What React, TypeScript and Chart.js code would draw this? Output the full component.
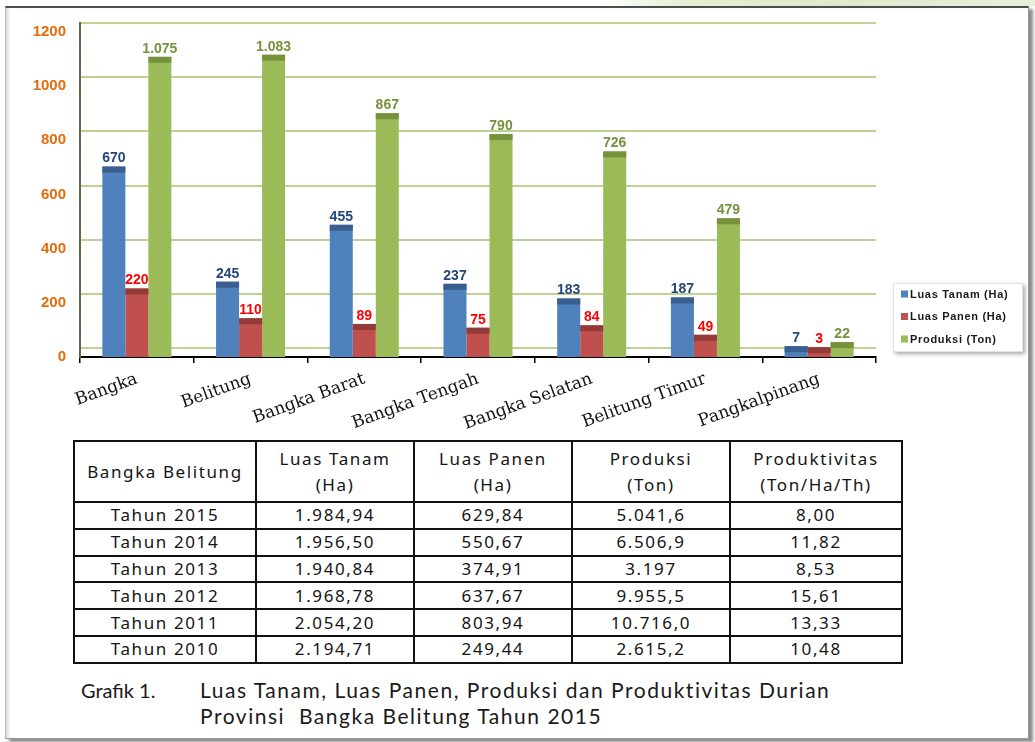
import React, { useEffect, useRef } from "react";
import { Chart, registerables } from "chart.js";

Chart.register(...registerables);

// ---- chart data ----
const categories = [
  "Bangka",
  "Belitung",
  "Bangka Barat",
  "Bangka Tengah",
  "Bangka Selatan",
  "Belitung Timur",
  "Pangkalpinang",
];
const seriesLabels = ["Luas Tanam (Ha)", "Luas Panen (Ha)", "Produksi (Ton)"];
const luasTanam = [670, 245, 455, 237, 183, 187, 7];
const luasPanen = [220, 110, 89, 75, 84, 49, 3];
const produksi = [1075, 1083, 867, 790, 726, 479, 22];
const yTicks = [0, 200, 400, 600, 800, 1000, 1200];

// ---- table data ----
const tableHead = [
  ["Bangka Belitung"],
  ["Luas Tanam", "(Ha)"],
  ["Luas Panen", "(Ha)"],
  ["Produksi", "(Ton)"],
  ["Produktivitas", "(Ton/Ha/Th)"],
];
const tableYears = ["Tahun 2015", "Tahun 2014", "Tahun 2013", "Tahun 2012", "Tahun 2011", "Tahun 2010"];
const tableLuasTanam = ["1.984,94", "1.956,50", "1.940,84", "1.968,78", "2.054,20", "2.194,71"];
const tableLuasPanen = ["629,84", "550,67", "374,91", "637,67", "803,94", "249,44"];
const tableProduksi = ["5.041,6", "6.506,9", "3.197", "9.955,5", "10.716,0", "2.615,2"];
const tableProduktivitas = ["8,00", "11,82", "8,53", "15,61", "13,33", "10,48"];

const captionLabel = "Grafik 1.";
const captionLines = [
  "Luas Tanam, Luas Panen, Produksi dan Produktivitas Durian",
  "Provinsi\u00a0 Bangka Belitung Tahun 2015",
];

// ---- styles ----
const barColors = ["#4F81BD", "#C0504D", "#9BBB59"];
const capColors = ["#3A5F8E", "#943B39", "#76923C"];
const valueColors = ["#23467A", "#FF0000", "#76923C"];
const Y_MIN = -33;

function fmt(v: number): string {
  const s = String(Math.round(v));
  return s.replace(/\B(?=(\d{3})+(?!\d))/g, ".");
}

const capsPlugin = {
  id: "capsAndLabels",
  afterDatasetsDraw(chart: any) {
    const ctx = chart.ctx as CanvasRenderingContext2D;
    chart.data.datasets.forEach((ds: any, di: number) => {
      const meta = chart.getDatasetMeta(di);
      meta.data.forEach((bar: any, i: number) => {
        const p = bar.getProps(["x", "y", "width", "base"], true);
        const left = p.x - p.width / 2;
        const h = Math.min(6, p.base - p.y);
        ctx.save();
        ctx.fillStyle = capColors[di];
        ctx.fillRect(left, p.y, p.width, h);
        ctx.font = "bold 14px 'Liberation Sans', Arial, sans-serif";
        ctx.fillStyle = valueColors[di];
        ctx.textAlign = "center";
        ctx.textBaseline = "bottom";
        ctx.fillText(fmt(ds.data[i]), p.x, p.y - 1);
        ctx.restore();
      });
    });
  },
};

const legendPlugin = {
  id: "boxLegend",
  afterDraw(chart: any) {
    const ctx = chart.ctx as CanvasRenderingContext2D;
    const a = chart.chartArea;
    const x = a.right + 17;
    const w = 130;
    const h = 69;
    const y = a.bottom - 74;
    ctx.save();
    ctx.shadowColor = "rgba(0,0,0,0.35)";
    ctx.shadowBlur = 4;
    ctx.shadowOffsetX = 2;
    ctx.shadowOffsetY = 2;
    ctx.fillStyle = "#fff";
    ctx.fillRect(x, y, w, h);
    ctx.restore();
    ctx.save();
    ctx.strokeStyle = "#e4e4e4";
    ctx.lineWidth = 1;
    ctx.strokeRect(x + 0.5, y + 0.5, w - 1, h - 1);
    ctx.font = "bold 11px 'Liberation Sans', Arial, sans-serif";
    (ctx as any).letterSpacing = "0.7px";
    ctx.textBaseline = "middle";
    ctx.textAlign = "left";
    chart.data.datasets.forEach((ds: any, di: number) => {
      const cy = y + 11 + di * 22.5;
      ctx.fillStyle = barColors[di];
      ctx.fillRect(x + 8, cy - 3.5, 7, 7);
      ctx.fillStyle = "#1a1a1a";
      ctx.fillText(ds.label, x + 17, cy + 0.5);
    });
    ctx.restore();
  },
};

function ChartCanvas() {
  const ref = useRef<HTMLCanvasElement | null>(null);
  useEffect(() => {
    if (!ref.current) return;
    const series = [luasTanam, luasPanen, produksi];
    const chart = new Chart(ref.current, {
      type: "bar",
      data: {
        labels: categories,
        datasets: series.map((d, i) => ({
          label: seriesLabels[i],
          data: d,
          backgroundColor: barColors[i],
          borderWidth: 0,
          base: Y_MIN,
          barPercentage: 1,
          categoryPercentage: 0.607,
        })),
      },
      options: {
        animation: false,
        responsive: false,
        maintainAspectRatio: false,
        layout: { padding: { top: 20, right: 159, left: 0, bottom: 0 } },
        plugins: { legend: { display: false }, tooltip: { enabled: false } },
        scales: {
          x: {
            offset: true,
            grid: {
              display: true,
              drawOnChartArea: false,
              drawTicks: true,
              tickLength: 6,
              color: "#000",
              lineWidth: 1.5,
              offset: true,
            },
            border: { display: true, color: "#000", width: 2 },
            ticks: {
              autoSkip: false,
              maxRotation: 20,
              minRotation: 20,
              padding: 6,
              color: "#111",
              font: { family: "'DejaVu Serif', serif", size: 17 },
            },
            afterFit: (s: any) => {
              s.height = 73;
            },
          },
          y: {
            min: Y_MIN,
            max: 1200,
            afterBuildTicks: (s: any) => {
              s.ticks = yTicks.map((v) => ({ value: v }));
            },
            grid: { color: "#BCD48F", lineWidth: 2, drawTicks: false },
            border: { display: true, color: "#5B6B45", width: 2 },
            ticks: {
              padding: 14,
              labelOffset: 9,
              color: "#E46C0A",
              callback: (v: any) => String(v),
              font: { family: "'Liberation Sans', Arial, sans-serif", size: 15, weight: "bold" },
            },
            afterFit: (s: any) => {
              s.width = 80;
            },
          },
        },
      } as any,
      plugins: [capsPlugin, legendPlugin],
    });
    return () => chart.destroy();
  }, []);
  return (
    <canvas
      ref={ref}
      width={1035}
      height={430}
      style={{ position: "absolute", left: 0, top: 0, width: 1035, height: 430 }}
    />
  );
}

export default function App() {
  const colW = [182, 158, 158, 158, 172];
  const rows = tableYears.map((y, i) => [y, tableLuasTanam[i], tableLuasPanen[i], tableProduksi[i], tableProduktivitas[i]]);
  const cellFont: React.CSSProperties = {
    fontFamily: "'Noto Sans', 'DejaVu Sans', sans-serif",
    fontSize: 17,
    letterSpacing: "1.6px",
    color: "#141414",
    textAlign: "center",
    padding: 0,
    border: "2px solid #111",
  };
  return (
    <div style={{ position: "absolute", left: 0, top: 0, width: 1035, height: 742, background: "#fff", overflow: "hidden" }}>
      {/* top strip */}
      <div
        style={{
          position: "absolute",
          left: 0,
          top: 0,
          width: 1035,
          height: 6,
          background: "linear-gradient(90deg, #ffffff 0%, #ffffff 58%, #e6efd4 66%, #dfe9cb 80%, #e8efdc 100%)",
        }}
      />
      {/* frame */}
      <div
        style={{
          position: "absolute",
          left: 5,
          top: 6,
          width: 1022,
          height: 730,
          borderTop: "2px solid #4d4d4d",
          borderLeft: "1px solid #b5b5b5",
          borderRight: "1px solid #9a9a9a",
          borderBottom: "1px solid #9a9a9a",
          boxShadow: "inset 4px 0 3px -1px #e2e2e2, 4px 3px 3px #8a8a8a",
          background: "#fff",
        }}
      />
      <ChartCanvas />
      <table
        style={{
          position: "absolute",
          left: 73,
          top: 440,
          borderCollapse: "collapse",
          tableLayout: "fixed",
          width: 828,
        }}
      >
        <colgroup>
          {colW.map((w, i) => (
            <col key={i} style={{ width: w }} />
          ))}
        </colgroup>
        <thead>
          <tr style={{ height: 61 }}>
            {tableHead.map((h, i) => (
              <th key={i} style={{ ...cellFont, fontWeight: "normal", lineHeight: "26px" }}>
                {h.map((l, j) => (
                  <div key={j}>{l}</div>
                ))}
              </th>
            ))}
          </tr>
        </thead>
        <tbody>
          {rows.map((r, i) => (
            <tr key={i} style={{ height: 26.8 }}>
              {r.map((c, j) => (
                <td key={j} style={{ ...cellFont, lineHeight: "22px" }}>
                  {c}
                </td>
              ))}
            </tr>
          ))}
        </tbody>
      </table>
      <div
        style={{
          position: "absolute",
          left: 81,
          top: 677,
          fontFamily: "Lato, 'Noto Sans', sans-serif",
          fontSize: 20,
          lineHeight: "26px",
          color: "#1a1a1a",
        }}
      >
        <div style={{ position: "absolute", left: 0, top: 0, whiteSpace: "nowrap" }}>{captionLabel}</div>
        {captionLines.map((l, i) => (
          <div
            key={i}
            style={{ position: "absolute", left: 119, top: i * 26, whiteSpace: "nowrap", fontSize: 21, letterSpacing: "1.52px" }}
          >
            {l}
          </div>
        ))}
      </div>
    </div>
  );
}
